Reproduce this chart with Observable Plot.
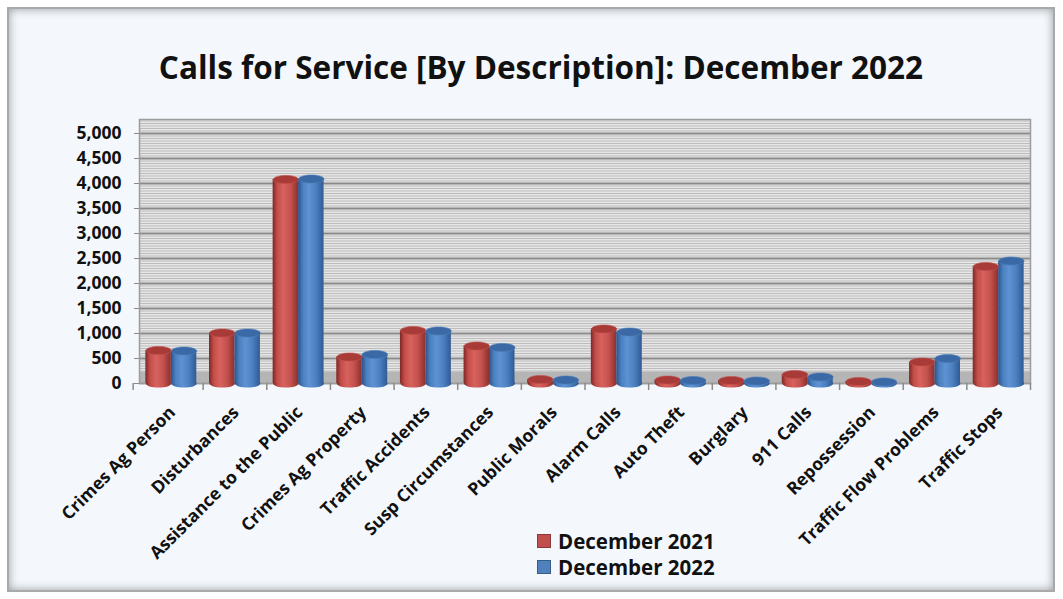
<!DOCTYPE html>
<html><head><meta charset="utf-8">
<script src="https://cdn.jsdelivr.net/npm/d3@7"></script>
<script src="https://cdn.jsdelivr.net/npm/@observablehq/plot@0.6"></script>
<style>
html,body{margin:0;padding:0;background:#fff;}
body{width:1063px;height:599px;overflow:hidden;position:relative;font-family:"Open Sans",Lato,sans-serif;}
#frame{position:absolute;left:7px;top:7px;width:1044px;height:581px;border:2px solid #a9a9a9;background:#f4f8fd;box-shadow:inset 0 0 10px rgba(0,0,0,.38);}
#title{position:absolute;left:0;width:1082px;top:51px;text-align:center;font-weight:700;font-size:31.5px;line-height:31.5px;color:#111;}
#chart{position:absolute;left:0;top:0;}
.leg{position:absolute;left:537px;font-weight:700;font-size:20.5px;line-height:20px;color:#111;display:flex;align-items:center;}
.sw{display:inline-block;width:12px;height:12px;margin-right:7px;border:1px solid;}
</style></head>
<body>
<div id="frame"></div>
<div id="chart"></div>
<div id="title">Calls for Service [By Description]: December 2022</div>
<div class="leg" style="top:531px"><span class="sw" style="background:#c0504d;border-color:#8c3836"></span>December 2021</div>
<div class="leg" style="top:557px"><span class="sw" style="background:#4f81bd;border-color:#385d8a"></span>December 2022</div>
<script>
const categories = ["Crimes Ag Person","Disturbances","Assistance to the Public","Crimes Ag Property","Traffic Accidents","Susp Circumstances","Public Morals","Alarm Calls","Auto Theft","Burglary","911 Calls","Repossession","Traffic Flow Problems","Traffic Stops"];
const dec2021 = [660,1010,4080,530,1060,750,80,1090,70,60,180,40,430,2340];
const dec2022 = [650,1010,4090,580,1050,720,70,1030,60,50,130,30,500,2450];
const yTicks = [0,500,1000,1500,2000,2500,3000,3500,4000,4500,5000];

const rows21 = categories.map((c,i)=>({category:c, series:"December 2021", value:dec2021[i]}));
const rows22 = categories.map((c,i)=>({category:c, series:"December 2022", value:dec2022[i]}));

const W = 1063, H = 599, mL = 139, mR = 33, mT = 119, mB = 216;
const pIn = 0.2, pOut = 0.1;
const step = (W - mL - mR) / (categories.length - pIn + 2*pOut);
const bw = step * (1 - pIn);
const half = bw/2, quarter = bw/4;

// ellipse symbol for cylinder caps
const ellipse = {
  draw(ctx, size) {
    const rx = Math.sqrt(size/Math.PI), ry = rx*0.32, k = 0.5523;
    ctx.moveTo(-rx, 0);
    ctx.bezierCurveTo(-rx, -ry*k, -rx*k, -ry, 0, -ry);
    ctx.bezierCurveTo(rx*k, -ry, rx, -ry*k, rx, 0);
    ctx.bezierCurveTo(rx, ry*k, rx*k, ry, 0, ry);
    ctx.bezierCurveTo(-rx*k, ry, -rx, ry*k, -rx, 0);
    ctx.closePath();
  }
};

const chart = Plot.plot({
  width: W, height: H,
  marginLeft: mL, marginRight: mR, marginTop: mT, marginBottom: mB,
  style: {background: "transparent", fontFamily: "'Open Sans', Lato, sans-serif", color: "#111", overflow: "visible"},
  x: {domain: categories, paddingInner: pIn, paddingOuter: pOut, round: false, axis: null},
  y: {domain: [0, 5280], axis: null},
  marks: [
    Plot.frame({fill: "#e6e6e6"}),
    Plot.ruleY(d3.range(0, 5280, 50), {stroke: "#bcbcbc", strokeWidth: 1.1}),
    Plot.ruleY(d3.range(500, 5001, 500), {stroke: "#8a8a8a", strokeWidth: 2}),
    Plot.rect([0], {y1: 0, y2: 230, fill: "#b5b5b5"}),
    Plot.ruleY([0], {stroke: "#8f8f8f", strokeWidth: 1.5}),
    Plot.frame({stroke: "#9c9c9c", strokeWidth: 1.5}),
    // bottom caps
    Plot.dot(rows21, {x: "category", y: () => 0, r: quarter, dx: -quarter, symbol: ellipse, fill: "url(#gRed)"}),
    Plot.dot(rows22, {x: "category", y: () => 0, r: quarter, dx: quarter, symbol: ellipse, fill: "url(#gBlue)"}),
    // cylinder bodies
    Plot.barY(rows21, {x: "category", y: "value", fill: "url(#gRed)", insetRight: half}),
    Plot.barY(rows22, {x: "category", y: "value", fill: "url(#gBlue)", insetLeft: half}),
    // top caps
    Plot.dot(rows21, {x: "category", y: "value", r: quarter, dx: -quarter, symbol: ellipse, fill: "#a83a37", stroke: "#c4524e", strokeWidth: 0.6}),
    Plot.dot(rows22, {x: "category", y: "value", r: quarter, dx: quarter, symbol: ellipse, fill: "#3b69a6", stroke: "#4f7fbc", strokeWidth: 0.6}),
    // y axis
    Plot.axisY({ticks: yTicks, tickFormat: d3.format(","), tickSize: 5, tickPadding: 13, fontSize: 17.5, fontWeight: "bold", stroke: "#8a8a8a", label: null}),
    // category boundary ticks
    Plot.ruleX(categories, {x: d => d, dx: step/2, y1: 0, y2: 0, insetBottom: -7, stroke: "#8a8a8a", strokeWidth: 1.5}),
    Plot.ruleX([categories[0]], {x: d => d, dx: -step/2 - pOut*step, y1: 0, y2: 0, insetBottom: -7, stroke: "#8a8a8a", strokeWidth: 1.5}),
    // category labels
    Plot.axisX({tickSize: 0, tickPadding: 26, dx: 1, tickRotate: -45, fontSize: 17.5, fontWeight: "bold", label: null})
  ]
});

// gradient definitions
const NS = "http://www.w3.org/2000/svg";
const defs = document.createElementNS(NS, "defs");
function grad(id, stops) {
  const g = document.createElementNS(NS, "linearGradient");
  g.setAttribute("id", id);
  g.setAttribute("x1", "0"); g.setAttribute("x2", "1"); g.setAttribute("y1", "0"); g.setAttribute("y2", "0");
  for (const [o, c] of stops) {
    const s = document.createElementNS(NS, "stop");
    s.setAttribute("offset", o); s.setAttribute("stop-color", c);
    g.appendChild(s);
  }
  defs.appendChild(g);
}
grad("gRed", [["0", "#7e2725"], ["0.18", "#c24d49"], ["0.42", "#d8625d"], ["0.7", "#c4524e"], ["1", "#8e2f2c"]]);
grad("gBlue", [["0", "#2b5288"], ["0.18", "#4a7fc0"], ["0.42", "#5e92d2"], ["0.7", "#4c80c0"], ["1", "#2f5b94"]]);
chart.insertBefore(defs, chart.firstChild);
document.getElementById("chart").appendChild(chart);
</script>
</body></html>
